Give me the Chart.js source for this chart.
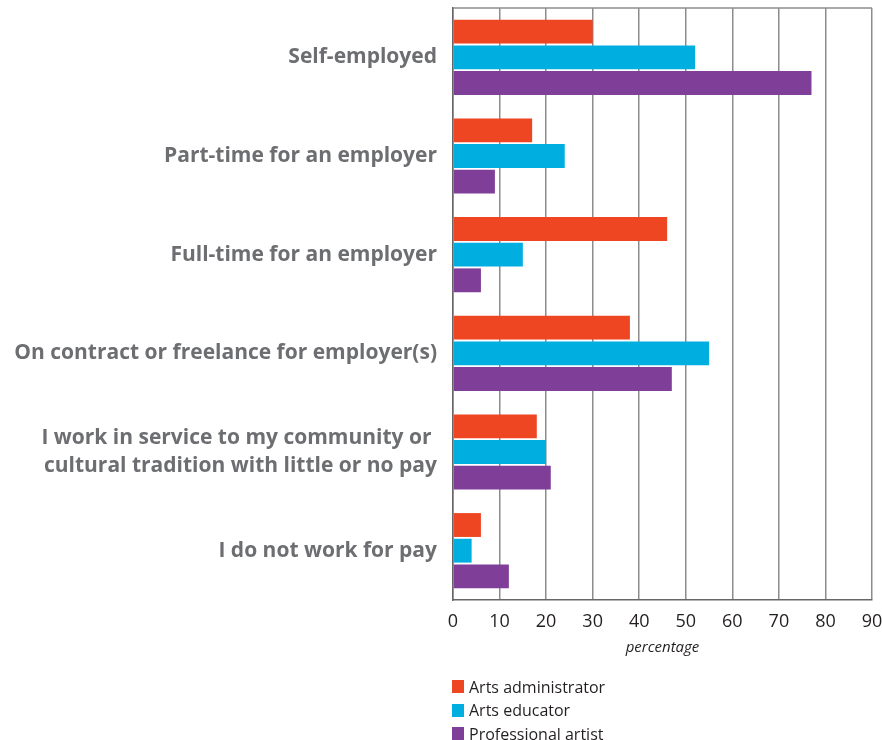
<!DOCTYPE html>
<html>
<head>
<meta charset="utf-8">
<script src="https://cdn.jsdelivr.net/npm/chart.js@4"></script>
<style>
  html, body { margin: 0; padding: 0; background: #fff; }
  #wrap { position: relative; width: 882px; height: 740px; }
  #legend { position: absolute; left: 452px; top: 675px; font-family: "Open Sans", sans-serif; font-size: 16px; color: #231f20; }
  #legend .row { display: flex; align-items: center; height: 23.5px; }
  #legend .sw { width: 12px; height: 13px; margin-right: 5px; }
</style>
</head>
<body>
<div id="wrap">
  <canvas id="c" width="882" height="740"></canvas>
  <div id="legend"></div>
</div>
<script>
// Employment situation by respondent role (percent)
const categories = [
  "Self-employed",
  "Part-time for an employer",
  "Full-time for an employer",
  "On contract or freelance for employer(s)",
  ["I work in service to my community or ", "cultural tradition with little or no pay"],
  "I do not work for pay"
];
const artsAdministrator = [30, 17, 46, 38, 18, 6];
const artsEducator      = [52, 24, 15, 55, 20, 4];
const professionalArtist = [77, 9, 6, 47, 21, 12];
const seriesNames = ["Arts administrator", "Arts educator", "Professional artist"];
const seriesColors = ["#ee4523", "#00aedf", "#7f3f98"];
const xTicks = [0, 10, 20, 30, 40, 50, 60, 70, 80, 90];
const xTitle = "percentage";

const seriesValues = [artsAdministrator, artsEducator, professionalArtist];

// Line along the top edge of the plotting area
const frame = {
  id: 'frame',
  afterDatasetsDraw(chart) {
    const { ctx, chartArea: a } = chart;
    ctx.save();
    ctx.strokeStyle = '#8c8c8c';
    ctx.lineWidth = 1.5;
    ctx.beginPath();
    ctx.moveTo(a.left, a.top);
    ctx.lineTo(a.right, a.top);
    ctx.stroke();
    ctx.restore();
  }
};

const chart = new Chart(document.getElementById('c'), {
  type: 'bar',
  data: {
    labels: categories,
    datasets: seriesNames.map((name, i) => ({
      label: name,
      data: seriesValues[i],
      backgroundColor: seriesColors[i],
      borderWidth: 0,
      categoryPercentage: 0.78,
      barPercentage: 0.93
    }))
  },
  options: {
    indexAxis: 'y',
    responsive: false,
    animation: false,
    layout: { padding: { top: 8, right: 10, left: 0, bottom: 0 } },
    plugins: { legend: { display: false }, tooltip: { enabled: false } },
    scales: {
      x: {
        min: 0,
        max: 90,
        afterBuildTicks(scale) { scale.ticks = xTicks.map(v => ({ value: v })); },
        afterFit(scale) {
          scale.height = 140;
          scale.paddingLeft = 0;
          scale.paddingRight = 0;
        },
        grid: { color: '#8c8c8c', lineWidth: 1.5, drawTicks: false },
        border: { color: '#666', width: 1.5 },
        ticks: {
          padding: 11,
          color: '#231f20',
          font: { family: '"Open Sans", sans-serif', size: 18 }
        },
        title: {
          display: true,
          text: xTitle,
          color: '#231f20',
          font: { family: '"Open Sans", sans-serif', size: 15, style: 'italic' },
          padding: { top: 0, bottom: 83 }
        }
      },
      y: {
        afterFit(scale) {
          scale.width = 453;
          scale.paddingTop = 0;
          scale.paddingBottom = 0;
        },
        grid: { display: false, drawTicks: false },
        border: { color: '#666', width: 1.5 },
        ticks: {
          padding: 16,
          color: '#6d6e71',
          font: { family: '"Open Sans", sans-serif', size: 21, weight: 'bold', lineHeight: 1.3 }
        }
      }
    }
  },
  plugins: [frame]
});

// Legend rows built from the dataset names and colours
const legend = document.getElementById('legend');
chart.data.datasets.forEach(ds => {
  const row = document.createElement('div');
  row.className = 'row';
  const sw = document.createElement('span');
  sw.className = 'sw';
  sw.style.background = ds.backgroundColor;
  const tx = document.createElement('span');
  tx.textContent = ds.label;
  row.appendChild(sw);
  row.appendChild(tx);
  legend.appendChild(row);
});
</script>
</body>
</html>
